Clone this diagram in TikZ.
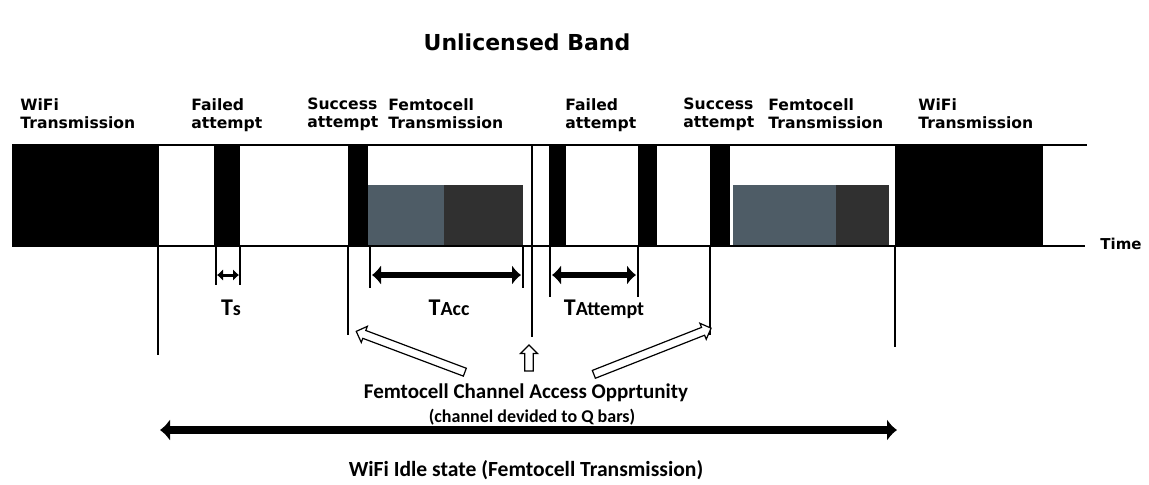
\documentclass[tikz,border=0pt]{standalone}
\usepackage{fontspec}
\setmainfont{DejaVu Sans}
\newfontfamily\calfont{Carlito}
\usepackage{tikz}
\usetikzlibrary{arrows.meta,positioning,shapes.arrows}
\definecolor{femtoblue}{RGB}{78,92,102}
\definecolor{femtodark}{RGB}{48,48,48}
\newcommand{\subtxt}[1]{{\fontsize{10}{10}\selectfont #1}}
\tikzset{
  lbl/.style={anchor=north west,inner sep=0pt,align=left,font=\bfseries\fontsize{7.8}{9}\selectfont},
  dimlbl/.style={anchor=base,inner sep=0pt,font=\calfont\bfseries\fontsize{12}{12}\selectfont},
  botlbl/.style={inner sep=0pt,font=\calfont\bfseries\fontsize{#1}{#1}\selectfont},
  vline/.style={line width=0.7pt},
  dimarrow/.style={line width=#1,{Latex[length=4.5pt,width=10pt]}-{Latex[length=4.5pt,width=10pt]}},
  hollow/.style={single arrow,draw,fill=white,line width=0.6pt,inner xsep=0pt,inner ysep=1.8pt,
    single arrow head extend=2.2pt,minimum height=#1}
}
\begin{document}
\begin{tikzpicture}[x=0.5pt,y=-0.5pt,>=Latex]
  \useasboundingbox (0,0) rectangle (1149,484);
  \node[inner sep=0pt,font=\bfseries\fontsize{11}{11}\selectfont] (title) at (527,42) {Unlicensed Band};

  \fill (12,145) rectangle (158,246);
  \fill (214,145) rectangle (240,246);
  \fill (348,145) rectangle (368,246);
  \fill[femtoblue] (368,185) rectangle (444,246);
  \fill[femtodark] (444,185) rectangle (523,246);
  \fill (549,145) rectangle (566,246);
  \fill (638,145) rectangle (657,246);
  \fill (710,145) rectangle (730,246);
  \fill[femtoblue] (733,185) rectangle (836,246);
  \fill[femtodark] (836,185) rectangle (889,246);
  \fill (895,145) rectangle (1043,246);
  \draw[line width=1pt] (12,145) -- (1087,145);
  \draw[line width=0.8pt] (12,246) -- (1085,246);

  \draw[vline] (158,145) -- (158,355);
  \draw[vline] (348,246) -- (348,335);
  \draw[vline] (532,145) -- (532,337);
  \draw[vline] (710,246) -- (710,335);
  \draw[vline] (895,246) -- (895,347);
  \draw[vline] (216,246) -- (216,285);
  \draw[vline] (240,246) -- (240,285);
  \draw[vline] (370,246) -- (370,288);
  \draw[vline] (523,246) -- (523,288);
  \draw[vline] (550,246) -- (550,297);
  \draw[vline] (638,246) -- (638,297);

  \node[lbl] (wifiA) at (20,98) {WiFi\\Transmission};
  \node[lbl] (failA) at (191,98) {Failed\\attempt};
  \node[lbl] (succA) at (307,98) {Success\\attempt};
  \node[lbl] (femA) at (388,98) {Femtocell\\Transmission};
  \node[lbl] (failB) at (565,98) {Failed\\attempt};
  \node[lbl] (succB) at (683,98) {Success\\attempt};
  \node[lbl] (femB) at (768,98) {Femtocell\\Transmission};
  \node[lbl] (wifiB) at (918,98) {WiFi\\Transmission};
  \node[anchor=west,inner sep=0pt,font=\bfseries\fontsize{7.5}{9}\selectfont] (time) at (1100,244) {Time};

  \coordinate (tsL) at (217,275);
  \coordinate (tsR) at (239,275);
  \coordinate (accL) at (372,275);
  \coordinate (accR) at (521,275);
  \coordinate (attL) at (552,275);
  \coordinate (attR) at (636,275);
  \draw[line width=1.5pt,{Latex[length=3pt,width=6pt]}-{Latex[length=3pt,width=6pt]}] (tsL) -- (tsR);
  \draw[dimarrow=3pt] (accL) -- (accR);
  \draw[dimarrow=2.6pt] (attL) -- (attR);
  \node[dimlbl] (ts) at (231,315) {T\subtxt{s}};
  \node[dimlbl] (tacc) at (449,315) {T\subtxt{Acc}};
  \node[dimlbl] (tatt) at (604,315) {T\subtxt{Attempt}};

  \node[hollow=58pt,rotate=159.4] (arrL) at (412.5,352.5) {};
  \node[hollow=13pt,rotate=90] (arrM) at (529,360) {};
  \node[hollow=63pt,rotate=21.5] (arrR) at (650.5,352) {};

  \node[botlbl=10.5] (access) at (526,393) {Femtocell Channel Access Opprtunity};
  \node[botlbl=9] (qbars) at (532,417) {(channel devided to Q bars)};
  \coordinate (idleL) at (160,430);
  \coordinate (idleR) at (897,430);
  \draw[line width=4pt,{Latex[length=5pt,width=11pt]}-{Latex[length=5pt,width=11pt]}] (idleL) -- (idleR);
  \node[botlbl=10.8] (idle) at (526,470) {WiFi Idle state (Femtocell Transmission)};
\end{tikzpicture}
\end{document}
